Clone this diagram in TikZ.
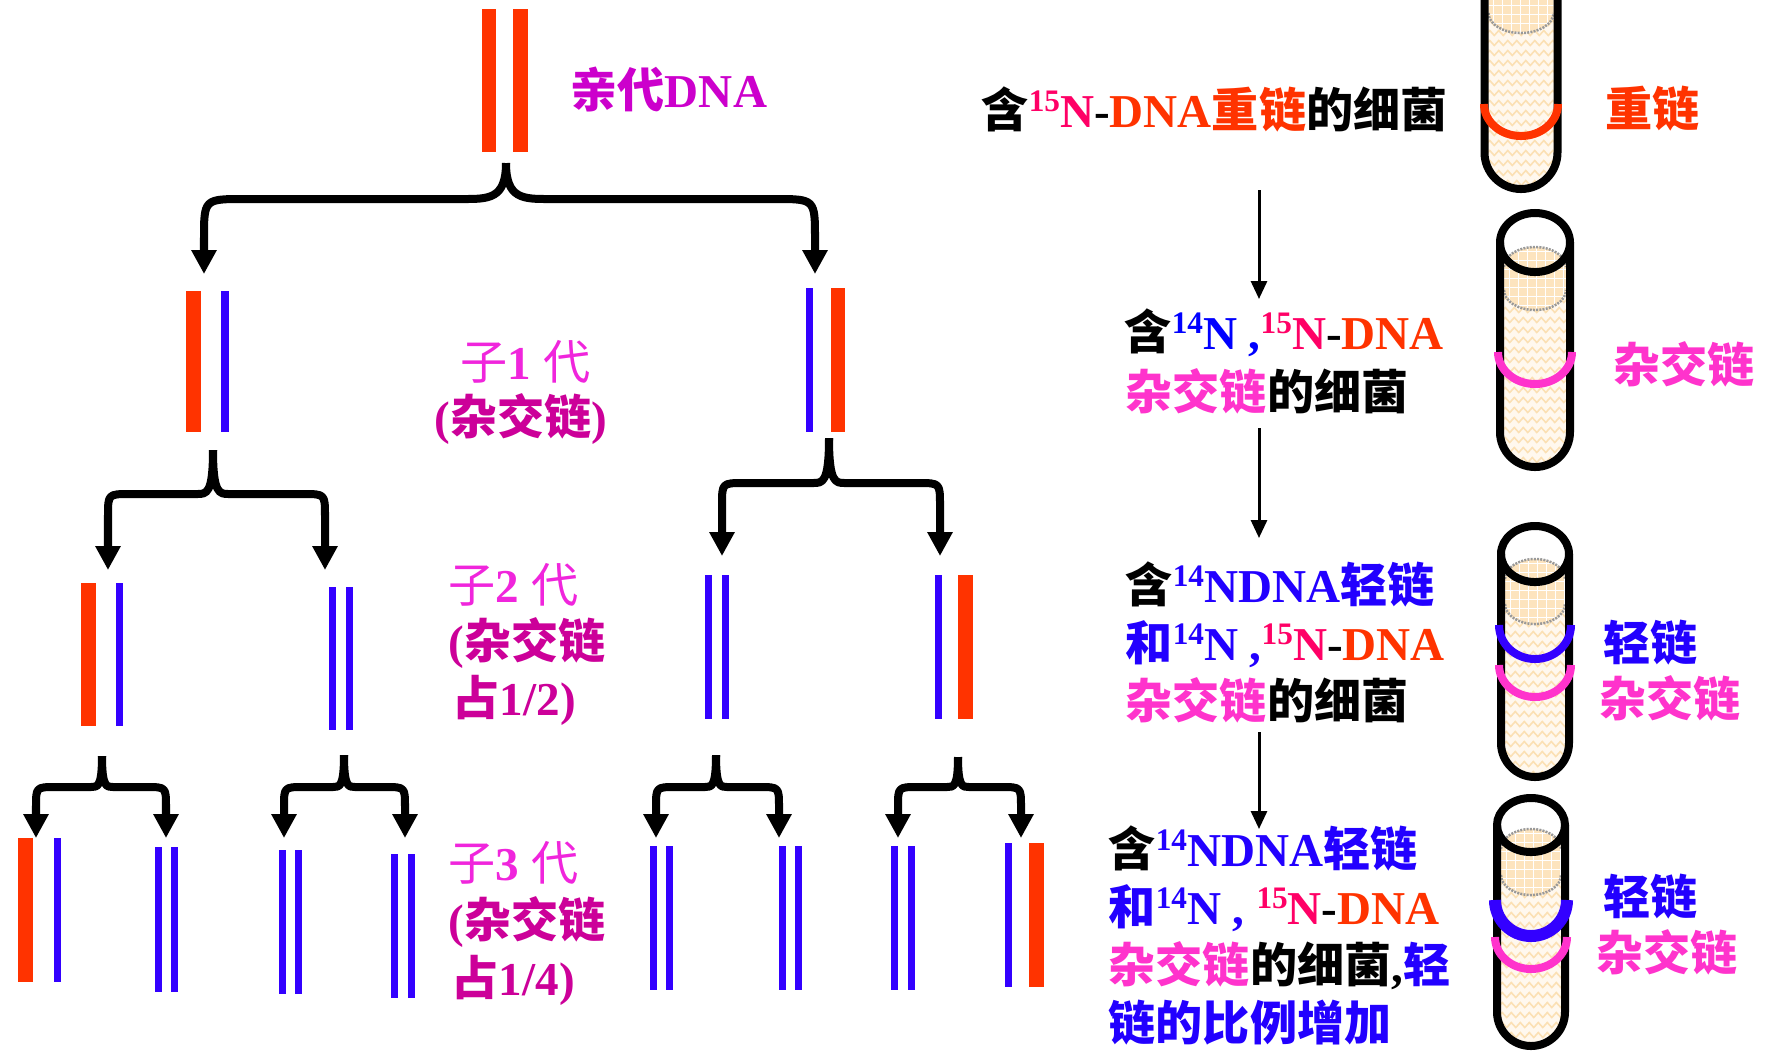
\documentclass[tikz,border=0pt]{standalone}
\usepackage{fontspec}
\setmainfont{Liberation Serif}
\newfontfamily\cjk{Noto Sans CJK SC}
\usetikzlibrary{arrows.meta,decorations.pathmorphing}

\definecolor{heavy}{HTML}{FF3300}
\definecolor{lightN}{HTML}{3300FF}
\definecolor{txtblue}{HTML}{2200FF}
\definecolor{isoblue}{HTML}{0000FF}
\definecolor{nred}{HTML}{FF0066}
\definecolor{hyb}{HTML}{FF33CC}
\definecolor{gencol}{HTML}{F025DC}
\definecolor{gennote}{HTML}{CC0099}
\definecolor{parentcol}{HTML}{CC00CC}
\definecolor{tubefill}{HTML}{FFF8EE}
\definecolor{zig}{HTML}{FBE0B4}
\definecolor{bandcol}{HTML}{FDE4BE}
\definecolor{surf}{HTML}{999999}

% Chinese text (bold and regular) and isotope mass numbers
\newcommand\zh[1]{{\cjk\bfseries #1}}
\newcommand\zhr[1]{{\cjk\mdseries #1}}
\newcommand\iso[1]{\raisebox{4.5pt}{\fontsize{8.9pt}{8.9pt}\selectfont #1}}

\tikzset{
  lbl/.style={inner sep=0pt, anchor=base west,
              font=\fontsize{13.4pt}{16pt}\selectfont\bfseries},
  splitline/.style={line width=0.08cm, line join=round,
              -{Triangle[width=0.24cm,length=0.24cm]}},
  thinarrow/.style={line width=0.03cm, -{Triangle[width=0.16cm,length=0.18cm]}},
  wall/.style={line width=0.08cm, black},
  surfline/.style={surf, line width=0.025cm, dash pattern=on 0.02cm off 0.012cm},
  zigline/.style={zig, line width=0.016cm, decorate,
              decoration={zigzag, segment length=0.09cm, amplitude=0.025cm}},
}

% one replication step: a brace from (cx,top) down to two arrow tips
% #1 cx, #2 top y, #3 bar y, #4 left x, #5 right x, #6 tip y, #7 shoulder, #8 corner
\newcommand\splitpair[8]{%
  \draw[splitline] (#1,#2) .. controls (#1,#3) and (#1-0.4*#7,#3) .. (#1-#7,#3)
     -- (#4+#8,#3) .. controls (#4,#3) .. (#4,#3+#8) -- (#4,#6);
  \draw[splitline] (#1,#2) .. controls (#1,#3) and (#1+0.4*#7,#3) .. (#1+#7,#3)
     -- (#5-#8,#3) .. controls (#5,#3) .. (#5,#3+#8) -- (#5,#6);
}

% centrifuge tube
% #1 cx, #2 half width, #3 mouth y, #4 bottom arc centre y,
% #5 band top y, #6 band bottom y, #7 mouth y radius
\newcommand\tube[7]{%
  \fill[tubefill] (#1-#2,#3) -- (#1-#2,#4) arc[start angle=180,end angle=360,radius=#2*0.01cm]
     -- (#1+#2,#3) -- cycle;
  \fill[white] (#1,#3) ellipse[x radius=#2*0.01cm, y radius=#7];
  \begin{scope}
    \clip (#1-#2,#3) -- (#1-#2,#4) arc[start angle=180,end angle=360,radius=#2*0.01cm]
       -- (#1+#2,#3) -- cycle;
    \foreach \k in {0,...,26}
      \draw[zigline] (#1-#2-6,#6+10+10*\k) -- (#1+#2+6,#6+10+10*\k);
  \end{scope}
  \begin{scope}
    \path[clip] (#1-#2+4,#5) -- (#1-#2+4,#6)
       arc[start angle=180,end angle=360,x radius=#2*0.01cm-0.04cm,y radius=0.2cm]
       -- (#1+#2-4,#5)
       arc[start angle=0,end angle=180,x radius=#2*0.01cm-0.04cm,y radius=0.2cm] -- cycle;
    \fill[bandcol] (#1-#2,#5-25) rectangle (#1+#2,#6+25);
    \foreach \k in {0,...,8} {
      \draw[white, line width=0.008cm] (#1-#2+9*\k,#5-25) -- (#1-#2+9*\k,#6+25);
    }
    \foreach \k in {0,...,40} {
      \draw[white, line width=0.008cm] (#1-#2,#5-25+9*\k) -- (#1+#2,#5-25+9*\k);
    }
  \end{scope}
  \draw[surfline] (#1-#2+4,#5) arc[start angle=180,end angle=0,x radius=#2*0.01cm-0.04cm,y radius=0.2cm];
  \draw[surfline] (#1-#2+4,#6) arc[start angle=180,end angle=360,x radius=#2*0.01cm-0.04cm,y radius=0.2cm];
  \draw[wall] (#1-#2,#3) -- (#1-#2,#4) arc[start angle=180,end angle=360,radius=#2*0.01cm] -- (#1+#2,#3);
  \draw[wall] (#1,#3) ellipse[x radius=#2*0.01cm, y radius=#7];
}

% a coloured DNA band in a tube
\newcommand\dnaband[6]{% colour, cx, ends y, x radius, y radius, width
  \draw[#1, line width=#6] (#2-#4,#3) arc[start angle=180,end angle=360,x radius=#4*0.01cm,y radius=#5*0.01cm];
}

\begin{document}
\begin{tikzpicture}[x=0.01cm, y=-0.01cm]
\useasboundingbox (0,0) rectangle (1769,1053);
\fill[white] (0,0) rectangle (1769,1053);

% ---------- parent molecule ----------
\fill[heavy] (482,9) rectangle (496,152);
\fill[heavy] (513,9) rectangle (528,152);

% ---------- first generation ----------
\fill[heavy]  (186,291) rectangle (201,432);
\fill[lightN] (221,291) rectangle (229,432);
\fill[lightN] (806,288) rectangle (813,432);
\fill[heavy]  (831,288) rectangle (845,432);

% ---------- second generation ----------
\fill[heavy]  (81,583) rectangle (96,726);
\fill[lightN] (116,583) rectangle (123,726);
\fill[lightN] (329,587) rectangle (336,730);
\fill[lightN] (346,587) rectangle (353,730);
\fill[lightN] (705,575) rectangle (712,719);
\fill[lightN] (722,575) rectangle (729,719);
\fill[lightN] (935,575) rectangle (942,719);
\fill[heavy]  (958,575) rectangle (973,719);

% ---------- third generation ----------
\fill[heavy]  (18,838) rectangle (33,982);
\fill[lightN] (54,838) rectangle (61,982);
\fill[lightN] (155,847) rectangle (162,992);
\fill[lightN] (171,847) rectangle (178,992);
\fill[lightN] (279,850) rectangle (286,994);
\fill[lightN] (295,850) rectangle (302,994);
\fill[lightN] (391,854) rectangle (398,998);
\fill[lightN] (408,854) rectangle (415,998);
\fill[lightN] (650,846) rectangle (657,990);
\fill[lightN] (666,846) rectangle (673,990);
\fill[lightN] (779,846) rectangle (786,990);
\fill[lightN] (795,846) rectangle (802,990);
\fill[lightN] (891,846) rectangle (898,990);
\fill[lightN] (908,846) rectangle (915,990);
\fill[lightN] (1005,843) rectangle (1012,987);
\fill[heavy]  (1029,843) rectangle (1044,987);

% ---------- replication braces ----------
\splitpair{506}{163}{199}{204}{815}{274}{43}{40}
\splitpair{213}{450}{494}{108}{325}{570}{16}{22}
\splitpair{829}{438}{483}{722}{940}{556}{16}{22}
\splitpair{102}{756}{787}{36}{166}{838}{11}{20}
\splitpair{344}{755}{787}{284}{405}{838}{11}{20}
\splitpair{716}{755}{787}{656}{779}{838}{11}{20}
\splitpair{958}{757}{787}{898}{1021}{838}{11}{20}

% ---------- generation labels ----------
\node[lbl, text=parentcol] (p0)  at (570,107) {\zh{亲代}DNA};
\node[lbl, text=gencol]    (g1a) at (460,379) {\zhr{子}1 \zhr{代}};
\node[lbl, text=gennote]   (g1b) at (434,434) {(\zh{杂交链})};
\node[lbl, text=gencol]    (g2a) at (448,602) {\zhr{子}2 \zhr{代}};
\node[lbl, text=gennote]   (g2b) at (448,658) {(\zh{杂交链}};
\node[lbl, text=gennote]   (g2c) at (452,715) {\zh{占}1/2)};
\node[lbl, text=gencol]    (g3a) at (448,880) {\zhr{子}3 \zhr{代}};
\node[lbl, text=gennote]   (g3b) at (448,937) {(\zh{杂交链}};
\node[lbl, text=gennote]   (g3c) at (451,995) {\zh{占}1/4)};

% ---------- bacteria descriptions ----------
\node[lbl] (b1) at (981,127)
  {\zh{含}\textcolor{nred}{\iso{15}N}-\textcolor{heavy}{DNA\zh{重链}}\zh{的细菌}};

\node[lbl] (b2a) at (1124,349)
  {\zh{含}\textcolor{isoblue}{\iso{14}N ,}\textcolor{nred}{\iso{15}N}-\textcolor{heavy}{DNA}};
\node[lbl] (b2b) at (1125,409) {\textcolor{hyb}{\zh{杂交链}}\zh{的细菌}};

\node[lbl] (b3a) at (1125,602) {\zh{含}\textcolor{txtblue}{\iso{14}NDNA\zh{轻链}}};
\node[lbl] (b3b) at (1125,660)
  {\textcolor{txtblue}{\zh{和}\iso{14}N ,}\textcolor{nred}{\iso{15}N}-\textcolor{heavy}{DNA}};
\node[lbl] (b3c) at (1125,718) {\textcolor{hyb}{\zh{杂交链}}\zh{的细菌}};

\node[lbl] (b4a) at (1108,866) {\zh{含}\textcolor{txtblue}{\iso{14}NDNA\zh{轻链}}};
\node[lbl] (b4b) at (1108,924)
  {\textcolor{txtblue}{\zh{和}\iso{14}N , }\textcolor{nred}{\iso{15}N}-\textcolor{heavy}{DNA}};
\node[lbl] (b4c) at (1108,982)
  {\textcolor{hyb}{\zh{杂交链}}\zh{的细菌},\textcolor{txtblue}{\zh{轻}}};
\node[lbl] (b4d) at (1108,1040) {\textcolor{txtblue}{\zh{链的比例增加}}};

% ---------- culture arrows ----------
\coordinate (a1s) at (1259,190); \coordinate (a1e) at (1259,299);
\coordinate (a2s) at (1259,428); \coordinate (a2e) at (1259,538);
\coordinate (a3s) at (1259,732); \coordinate (a3e) at (1259,829);
\draw[thinarrow] (a1s) -- (a1e);
\draw[thinarrow] (a2s) -- (a2e);
\draw[thinarrow] (a3s) -- (a3e);

% ---------- centrifuge tubes ----------
\tube{1521}{36.5}{-80}{152.5}{-60}{13}{0.3cm}
\dnaband{heavy}{1521}{104}{37}{32}{0.08cm}

\tube{1535}{35}{242.5}{432}{267}{290}{0.295cm}
\dnaband{hyb}{1535}{352}{37}{32}{0.08cm}

\tube{1535}{34}{554}{743}{579}{604}{0.28cm}
\dnaband{lightN}{1535}{625}{36}{34}{0.08cm}
\dnaband{hyb}{1535}{665}{36}{32}{0.08cm}

\tube{1531}{34}{825}{1012}{849}{875}{0.27cm}
\dnaband{lightN}{1531}{900}{36}{36}{0.12cm}
\dnaband{hyb}{1531}{937}{36}{32}{0.08cm}

% ---------- band labels ----------
\node[lbl, text=heavy]   (t1)  at (1605,126) {\zh{重链}};
\node[lbl, text=hyb]     (t2)  at (1613,382) {\zh{杂交链}};
\node[lbl, text=txtblue] (t3a) at (1603,660) {\zh{轻链}};
\node[lbl, text=hyb]     (t3b) at (1599,716) {\zh{杂交链}};
\node[lbl, text=txtblue] (t4a) at (1603,914) {\zh{轻链}};
\node[lbl, text=hyb]     (t4b) at (1596,970) {\zh{杂交链}};
\end{tikzpicture}
\end{document}
